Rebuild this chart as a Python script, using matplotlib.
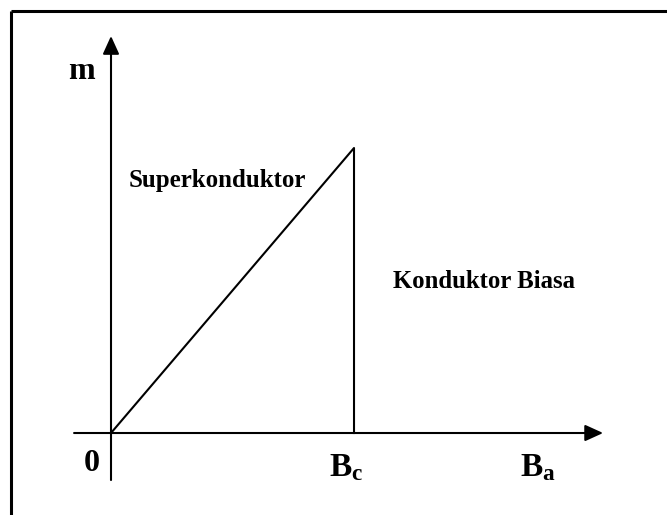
import matplotlib
matplotlib.use("Agg")
import matplotlib.pyplot as plt
from matplotlib.patches import FancyArrowPatch

# magnetisation curve of a type-I superconductor (arbitrary units)
B_field = [0.0, 1.0, 1.0]
magnet = [0.0, 1.0, 0.0]
Bc = 1.0

plt.rcParams["font.family"] = "Liberation Serif"
plt.rcParams["mathtext.fontset"] = "custom"
plt.rcParams["mathtext.bf"] = "Liberation Serif:bold"
plt.rcParams["mathtext.rm"] = "Liberation Serif:bold"
plt.rcParams["mathtext.it"] = "Liberation Serif:bold"

fig = plt.figure(figsize=(6.67, 5.15), dpi=100)
ax = fig.add_axes([0, 0, 1, 1])
ax.set_xlim(-0.4568, 2.288)
ax.set_ylim(-0.2877, 1.5193)
ax.axis("off")

# frame (top and left edges only visible)
ax.plot([0.0165, 1.0], [0.9786, 0.9786], color="black", lw=2.2, transform=ax.transAxes, solid_capstyle="butt")
ax.plot([0.0165, 0.0165], [0.0, 0.9786], color="black", lw=2.2, transform=ax.transAxes, solid_capstyle="butt")

# axes with arrows
arrow_style = "-|>,head_length=1.1,head_width=0.5"
ax.add_patch(FancyArrowPatch((-0.152, 0), (2.025, 0), arrowstyle=arrow_style,
                             mutation_scale=10, color="black", lw=1.5, shrinkA=0, shrinkB=0))
ax.add_patch(FancyArrowPatch((0, -0.165), (0, 1.393), arrowstyle=arrow_style,
                             mutation_scale=10, color="black", lw=1.5, shrinkA=0, shrinkB=0))

ax.plot(B_field, magnet, color="black", lw=1.5)

ax.text(-0.177, 1.242, "m", fontsize=23, fontweight="bold", ha="left", va="baseline")
ax.text(-0.111, -0.133, "0", fontsize=23, fontweight="bold", ha="left", va="baseline")
ax.text(Bc - 0.103, -0.151, r"$\mathbf{B_c}$", fontsize=24, ha="left", va="baseline")
ax.text(1.683, -0.151, r"$\mathbf{B_a}$", fontsize=24, ha="left", va="baseline")
ax.text(0.074, 0.863, "Superkonduktor", fontsize=17.9, fontweight="bold", ha="left", va="baseline")
ax.text(1.160, 0.509, "Konduktor Biasa", fontsize=17.8, fontweight="bold", ha="left", va="baseline")

fig.savefig("out.png", dpi=100)
